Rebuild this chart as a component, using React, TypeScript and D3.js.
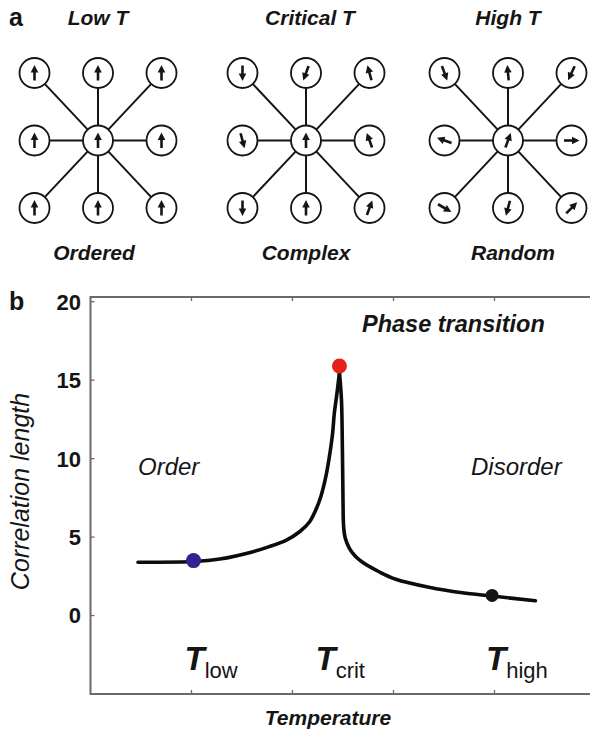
import React from 'react';
import * as d3 from 'd3';

// panel a: spin angles (degrees clockwise from up), row by row, 3x3 lattice
const panelTitles = ['Low T', 'Critical T', 'High T'];
const panelCaptions = ['Ordered', 'Complex', 'Random'];
const lowSpins = [0, 0, 0, 0, 0, 0, 0, 0, 0];
const critSpins = [180, 200, 345, 165, 0, 340, 180, 0, 20];
const highSpins = [160, 355, 205, 290, 20, 90, 120, 195, 45];

// panel b: correlation length vs temperature
const yTicks = [0, 5, 10, 15, 20];
const xTicks = [1, 2, 3, 4];
const leftTemp = [0.47, 1.02, 1.28, 1.61, 1.77, 1.94, 2.07, 2.17, 2.23, 2.28, 2.33, 2.365, 2.397, 2.414, 2.438, 2.465];
const leftCorr = [3.4, 3.44, 3.6, 4.07, 4.39, 4.81, 5.34, 5.98, 6.72, 7.57, 8.85, 10.12, 11.61, 12.9, 14.05, 15.5];
const rightTemp = [2.465, 2.485, 2.494, 2.5, 2.506, 2.522, 2.562, 2.62, 2.69, 2.857, 3.023, 3.351, 3.68, 3.976, 4.405];
const rightCorr = [15.5, 13.7, 10.6, 7.4, 5.7, 4.94, 4.3, 3.79, 3.41, 2.79, 2.31, 1.8, 1.45, 1.24, 0.94];
const markerNames = ['low', 'crit', 'high'];
const markerTemp = [1.02, 2.465, 3.976];
const markerCorr = [3.5, 15.9, 1.28];

const markerColors = ['#37208f', '#e3241b', '#161616'];
const font = 'Liberation Sans, Arial, Helvetica, sans-serif';
const ink = '#151515';

function Lattice({ cx, spins }: { cx: number; spins: number[] }) {
  const gx = d3.scalePoint<number>().domain([0, 1, 2]).range([cx - 63.5, cx + 63.5]);
  const gy = d3.scalePoint<number>().domain([0, 1, 2]).range([73, 208]);
  const r = 15;
  const cells = spins.map((a, i) => ({ a, col: i % 3, row: Math.floor(i / 3) }));
  const mx = gx(1)!, my = gy(1)!;
  return (
    <g>
      {cells.filter(c => !(c.col === 1 && c.row === 1)).map((c, i) => {
        const ox = gx(c.col)!, oy = gy(c.row)!;
        const len = Math.hypot(ox - mx, oy - my);
        const ux = (ox - mx) / len, uy = (oy - my) / len;
        return (
          <line key={'l' + i} x1={mx + ux * r} y1={my + uy * r} x2={ox - ux * r} y2={oy - uy * r}
            stroke={ink} strokeWidth={2} />
        );
      })}
      {cells.map((c, i) => (
        <g key={i} transform={`translate(${gx(c.col)},${gy(c.row)})`}>
          <circle r={r} fill="#fff" stroke={ink} strokeWidth={1.8} />
          <g transform={`rotate(${c.a})`}>
            <line x1={0} y1={7.5} x2={0} y2={-2} stroke={ink} strokeWidth={2.6} />
            <path d="M-3.8,-0.5 L3.8,-0.5 L0,-8 Z" fill={ink} />
          </g>
        </g>
      ))}
    </g>
  );
}

export default function App() {
  const x = d3.scaleLinear().domain([0, 5]).range([90.5, 595.5]);
  const y = d3.scaleLinear().domain([-5, 20.3]).range([694, 297]);
  const curve = d3.line<[number, number]>()
    .x(d => x(d[0]))
    .y(d => y(d[1]))
    .curve(d3.curveCatmullRom.alpha(0.5));
  const leftPath = curve(leftTemp.map((t, i) => [t, leftCorr[i]] as [number, number]));
  const rightPath = curve(rightTemp.map((t, i) => [t, rightCorr[i]] as [number, number]));
  const labelShift = [-9, -24, -6];
  const latticeX = [98, 306, 508];
  const spinSets = [lowSpins, critSpins, highSpins];

  return (
    <svg width={590} height={733} style={{ position: 'absolute', left: 0, top: 0, background: '#fff' }}
      fontFamily={font}>
      {/* panel a */}
      <text x={9} y={26} fontSize={25} fontWeight="bold" fill={ink}>a</text>
      {panelTitles.map((t, i) => (
        <text key={t} x={latticeX[i] + [0, 4, 0][i]} y={25} textAnchor="middle" fontSize={21}
          fontWeight="bold" fontStyle="italic" fill={ink}>{t}</text>
      ))}
      {spinSets.map((s, i) => <Lattice key={i} cx={latticeX[i]} spins={s} />)}
      {panelCaptions.map((t, i) => (
        <text key={t} x={latticeX[i] + [-4, 0, 5][i]} y={260} textAnchor="middle" fontSize={21}
          fontWeight="bold" fontStyle="italic" fill={ink}>{t}</text>
      ))}

      {/* panel b */}
      <text x={9} y={310} fontSize={25} fontWeight="bold" fill={ink}>b</text>
      <rect x={x(0)} y={y(20.3)} width={x(5) - x(0)} height={y(-5) - y(20.3)}
        fill="none" stroke="#6a6a6a" strokeWidth={2} />
      {yTicks.map(t => (
        <g key={t}>
          <line x1={x(0)} x2={x(0) + 4} y1={y(t)} y2={y(t)} stroke="#6a6a6a" strokeWidth={1.3} />
          <text x={81} y={y(t)} dy="0.36em" textAnchor="end" fontSize={22} fontWeight="bold" fill={ink}>{t}</text>
        </g>
      ))}
      {xTicks.map(t => (
        <g key={t}>
          <line x1={x(t)} x2={x(t)} y1={y(20.3)} y2={y(20.3) + 4} stroke="#6a6a6a" strokeWidth={1.3} />
          <line x1={x(t)} x2={x(t)} y1={y(-5)} y2={y(-5) - 4} stroke="#6a6a6a" strokeWidth={1.3} />
        </g>
      ))}
      <text transform={`translate(29,${(390 + 593) / 2}) rotate(-90)`} textAnchor="middle" fontSize={25}
        fontStyle="italic" fill={ink}>Correlation length</text>
      <text x={328} y={725} textAnchor="middle" fontSize={21} fontWeight="bold" fontStyle="italic"
        fill={ink}>Temperature</text>

      <text x={362} y={332} fontSize={23.5} fontWeight="bold" fontStyle="italic" fill={ink}>Phase transition</text>
      <text x={138} y={475} fontSize={24} fontStyle="italic" fill={ink}>Order</text>
      <text x={471} y={475} fontSize={24} fontStyle="italic" fill={ink}>Disorder</text>

      <path d={leftPath ?? ''} fill="none" stroke="#0c0c0c" strokeWidth={3.6} strokeLinecap="round" />
      <path d={rightPath ?? ''} fill="none" stroke="#0c0c0c" strokeWidth={3.6} strokeLinecap="round" />
      {markerTemp.map((t, i) => (
        <circle key={i} cx={x(t)} cy={y(markerCorr[i])} r={[7.5, 7.5, 6.5][i]} fill={markerColors[i]} />
      ))}
      {markerNames.map((n, i) => (
        <text key={n} x={x(markerTemp[i]) + labelShift[i]} y={670} fill={ink}>
          <tspan fontSize={33} fontWeight="bold" fontStyle="italic">T</tspan>
          <tspan fontSize={22} dy={8}>{n}</tspan>
        </text>
      ))}
    </svg>
  );
}
